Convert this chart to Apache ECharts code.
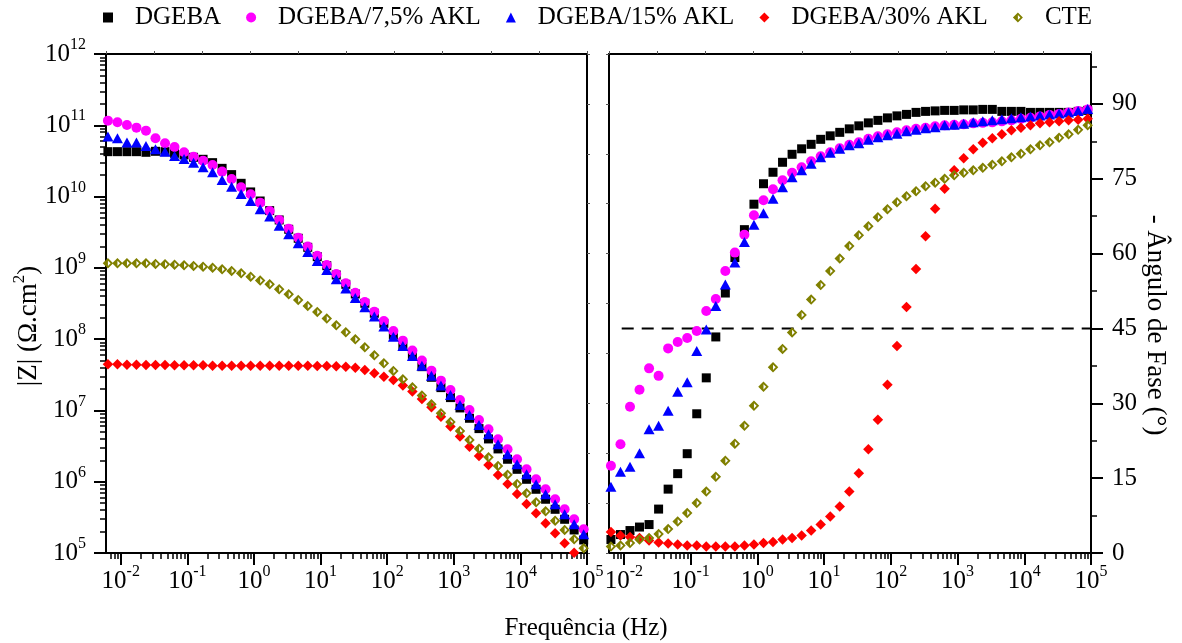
<!DOCTYPE html>
<html>
<head>
<meta charset="utf-8">
<script src="https://cdn.jsdelivr.net/npm/echarts@6.0.0/dist/echarts.min.js"></script>
<style>
  html, body { margin: 0; padding: 0; background: #fff; }
  #chart { width: 1182px; height: 643px; }
</style>
</head>
<body>
<div id="chart"></div>
<script>
// Measurement frequencies (Hz), low to high, 7 points per decade
const freqHz = [
  0.0064134, 0.0089125, 0.012383, 0.017197, 0.023898, 0.033211, 0.046151,
  0.064134, 0.089125, 0.12383, 0.17197, 0.23898, 0.33211, 0.46151,
  0.64134, 0.89125, 1.2383, 1.7197, 2.3898, 3.3211, 4.6151,
  6.4134, 8.9125, 12.383, 17.197, 23.898, 33.211, 46.151,
  64.134, 89.125, 123.83, 171.97, 238.98, 332.11, 461.51,
  641.34, 891.25, 1238.3, 1719.7, 2389.8, 3321.1, 4615.1,
  6413.4, 8912.5, 12383, 17197, 23898, 33211, 46151,
  64134, 89125
];

const sampleNames = ['DGEBA', 'DGEBA/7,5% AKL', 'DGEBA/15% AKL', 'DGEBA/30% AKL', 'CTE'];

// log10 |Z| (Ω.cm²) per sample, one value per frequency
const logZ_DGEBA = [10.630, 10.630, 10.630, 10.630, 10.621, 10.635, 10.630, 10.607, 10.584, 10.551, 10.523, 10.476, 10.396, 10.308, 10.186, 10.065, 9.938, 9.803, 9.672, 9.541, 9.415, 9.288, 9.157, 9.031, 8.900, 8.769, 8.634, 8.503, 8.363, 8.222, 8.059, 7.904, 7.764, 7.614, 7.465, 7.320, 7.180, 7.035, 6.890, 6.745, 6.600, 6.460, 6.315, 6.174, 6.034, 5.894, 5.754, 5.613, 5.473, 5.323, 5.183];
const logZ_AKL75 = [11.065, 11.042, 11.004, 10.967, 10.925, 10.817, 10.747, 10.696, 10.621, 10.560, 10.504, 10.443, 10.350, 10.247, 10.130, 10.032, 9.915, 9.798, 9.672, 9.550, 9.424, 9.298, 9.171, 9.041, 8.914, 8.783, 8.652, 8.522, 8.386, 8.255, 8.115, 7.979, 7.839, 7.699, 7.558, 7.418, 7.287, 7.147, 7.007, 6.866, 6.735, 6.595, 6.455, 6.315, 6.174, 6.034, 5.894, 5.754, 5.613, 5.473, 5.333];
const logZ_AKL15 = [10.841, 10.817, 10.757, 10.757, 10.710, 10.663, 10.630, 10.569, 10.527, 10.476, 10.411, 10.340, 10.233, 10.139, 10.036, 9.938, 9.821, 9.719, 9.592, 9.471, 9.344, 9.223, 9.097, 8.970, 8.839, 8.709, 8.578, 8.447, 8.316, 8.176, 8.035, 7.904, 7.764, 7.628, 7.488, 7.348, 7.217, 7.077, 6.936, 6.796, 6.665, 6.525, 6.385, 6.244, 6.104, 5.964, 5.824, 5.683, 5.543, 5.403, 5.263];
const logZ_AKL30 = [7.647, 7.647, 7.642, 7.642, 7.638, 7.638, 7.638, 7.633, 7.633, 7.633, 7.633, 7.628, 7.628, 7.628, 7.628, 7.628, 7.628, 7.628, 7.628, 7.628, 7.628, 7.628, 7.624, 7.624, 7.619, 7.614, 7.600, 7.568, 7.521, 7.474, 7.427, 7.348, 7.264, 7.161, 7.044, 6.913, 6.773, 6.633, 6.492, 6.361, 6.235, 6.095, 5.969, 5.828, 5.688, 5.557, 5.417, 5.277, 5.136, 5.005, 4.870];
const logZ_CTE = [9.064, 9.064, 9.064, 9.064, 9.064, 9.055, 9.050, 9.045, 9.036, 9.027, 9.017, 9.003, 8.980, 8.956, 8.924, 8.877, 8.821, 8.769, 8.699, 8.629, 8.550, 8.465, 8.381, 8.288, 8.194, 8.096, 7.998, 7.886, 7.773, 7.661, 7.554, 7.437, 7.325, 7.208, 7.086, 6.960, 6.838, 6.712, 6.586, 6.464, 6.343, 6.221, 6.099, 5.969, 5.838, 5.711, 5.585, 5.454, 5.323, 5.192, 5.066];

// -phase angle (degrees) per sample
const phase_DGEBA = [2.7, 3.7, 4.5, 5.2, 5.7, 8.8, 12.8, 15.9, 19.9, 27.9, 35.1, 43.3, 52.1, 59.2, 64.8, 69.9, 74.0, 76.3, 78.3, 79.9, 81.0, 81.9, 82.9, 83.6, 84.3, 85.0, 85.6, 86.2, 86.7, 87.2, 87.6, 87.9, 88.3, 88.5, 88.6, 88.7, 88.7, 88.8, 88.8, 88.9, 88.9, 88.5, 88.5, 88.5, 88.3, 88.3, 88.3, 88.3, 88.3, 88.5, 88.7];
const phase_AKL75 = [17.5, 21.8, 29.3, 32.7, 37.0, 35.5, 41.0, 42.3, 43.1, 44.5, 48.5, 50.9, 56.5, 60.2, 63.8, 67.7, 70.7, 72.9, 74.7, 76.2, 77.3, 78.5, 79.5, 80.3, 81.1, 81.8, 82.3, 83.0, 83.5, 83.9, 84.3, 84.7, 85.0, 85.2, 85.5, 85.7, 85.8, 85.9, 86.1, 86.2, 86.3, 86.5, 86.7, 87.0, 87.2, 87.5, 87.8, 88.0, 88.3, 88.6, 88.9];
const phase_AKL15 = [13.3, 16.3, 17.3, 20.0, 24.8, 25.5, 28.5, 32.3, 34.2, 40.5, 44.8, 49.5, 53.8, 58.2, 62.3, 65.8, 68.1, 71.0, 73.3, 75.3, 76.7, 78.0, 79.3, 80.2, 81.0, 81.7, 82.1, 82.8, 83.3, 83.7, 84.0, 84.5, 84.8, 85.1, 85.3, 85.7, 85.8, 86.0, 86.3, 86.5, 86.7, 86.9, 87.1, 87.3, 87.5, 87.7, 87.9, 88.1, 88.3, 88.6, 89.0];
const phase_AKL30 = [4.2, 3.5, 3.2, 3.0, 2.5, 2.1, 1.9, 1.7, 1.5, 1.5, 1.3, 1.3, 1.3, 1.3, 1.5, 1.7, 2.0, 2.2, 2.7, 3.0, 3.5, 4.5, 5.7, 7.3, 9.3, 12.3, 16.0, 20.8, 26.7, 33.7, 41.5, 49.3, 56.9, 63.5, 69.0, 73.0, 76.7, 79.1, 80.9, 82.2, 83.1, 83.9, 84.7, 85.2, 85.7, 86.1, 86.3, 86.5, 86.7, 86.8, 87.0];
const phase_CTE = [1.3, 1.5, 2.0, 2.7, 3.0, 3.8, 4.8, 6.3, 8.0, 10.0, 12.3, 15.3, 18.5, 21.9, 25.5, 29.5, 33.3, 37.2, 40.9, 44.2, 47.7, 50.8, 53.7, 56.5, 59.0, 61.5, 63.7, 65.5, 67.3, 68.9, 70.3, 71.5, 72.5, 73.5, 74.2, 75.0, 75.7, 76.2, 76.7, 77.2, 77.8, 78.5, 79.3, 80.0, 80.9, 81.7, 82.3, 83.2, 83.9, 84.8, 85.7];

// 45° reference line (frequency range, Hz)
const refLineHz = [0.0093, 100000];
const refLinePhase = [45, 45];

// Axis ranges and tick labels
const freqRangeHz = [0.006, 100000];
const freqDecades = [-2, -1, 0, 1, 2, 3, 4, 5];
const zDecades = [5, 6, 7, 8, 9, 10, 11, 12];
const phaseTicks = [0, 15, 30, 45, 60, 75, 90];
const phaseMinorTicks = [7.5, 22.5, 37.5, 52.5, 67.5, 82.5, 97.5];
const phaseRange = [0, 100];

const FONT = 'Liberation Serif';
const colors = ['#000000', '#ff00ff', '#0000ff', '#ff0000', '#808000'];
// half-filled diamond: left half solid, right half outlined
const halfDiamond = 'path://M10 0L0 10L10 20Z M10 0L20 10L10 20Z M10 5L10 15L15 10Z';
const symbols = ['rect', 'circle', 'triangle', 'diamond', halfDiamond];
const symbolSizes = [9, 10, [11, 10], 10.5, 10.5];

const logZ = [logZ_DGEBA, logZ_AKL75, logZ_AKL15, logZ_AKL30, logZ_CTE];
const phase = [phase_DGEBA, phase_AKL75, phase_AKL15, phase_AKL30, phase_CTE];

const logF = freqHz.map(f => Math.log10(f));
const fMin = Math.log10(freqRangeHz[0]);
const fMax = Math.log10(freqRangeHz[1]);

// log-spaced minor tick positions (2..9 × 10^n) inside [lo, hi]
function logMinor(lo, hi) {
  const out = [];
  for (let n = Math.floor(lo); n < Math.ceil(hi); n++) {
    for (let k = 2; k <= 9; k++) {
      const v = n + Math.log10(k);
      if (v > lo && v < hi) out.push(v);
    }
  }
  return out;
}

const powRich = {
  b: { fontSize: 25, lineHeight: 34, fontFamily: FONT, color: '#000' },
  s: { fontSize: 16, lineHeight: 16, verticalAlign: 'top', fontFamily: FONT, color: '#000' }
};
const powLabel = v => '{b|10}{s|' + Math.round(v) + '}';

const lineStyle = { color: '#000', width: 2 };

function majorAxis(extra) {
  return Object.assign({
    type: 'value',
    axisLine: { show: true, onZero: false, lineStyle },
    splitLine: { show: false },
    minorTick: { show: false }
  }, extra);
}
function minorAxis(extra, values) {
  return Object.assign({
    type: 'value',
    axisLine: { show: false, onZero: false },
    axisTick: { show: true, length: 6, customValues: values, lineStyle: { color: '#000', width: 1.5 } },
    axisLabel: { show: false },
    splitLine: { show: false }
  }, extra);
}
function borderAxis(extra) {
  return Object.assign({
    type: 'value', min: 0, max: 10, interval: 1,
    axisLine: { show: true, onZero: false, lineStyle },
    axisTick: { show: true, length: 3, lineStyle: { color: '#555', width: 1 } },
    axisLabel: { show: false },
    splitLine: { show: false }
  }, extra);
}

const xAxes = [];
const yAxes = [];
[0, 1].forEach(g => {
  xAxes.push(majorAxis({
    gridIndex: g, position: 'bottom', min: fMin, max: fMax,
    axisTick: { show: true, length: 12, customValues: freqDecades, lineStyle: { color: '#000', width: 2 } },
    axisLabel: { show: true, customValues: freqDecades, formatter: powLabel, rich: powRich, margin: 11 }
  }));
  xAxes.push(minorAxis({ gridIndex: g, position: 'bottom', min: fMin, max: fMax }, logMinor(fMin, fMax)));
  xAxes.push(borderAxis({ gridIndex: g, position: 'top' }));
});

// left panel: |Z|
yAxes.push(majorAxis({
  gridIndex: 0, position: 'left', min: zDecades[0], max: zDecades[zDecades.length - 1],
  axisTick: { show: true, length: 12, customValues: zDecades, lineStyle: { color: '#000', width: 2 } },
  axisLabel: { show: true, customValues: zDecades, formatter: powLabel, rich: powRich, margin: 20 }
}));
yAxes.push(minorAxis({ gridIndex: 0, position: 'left', min: zDecades[0], max: zDecades[zDecades.length - 1] },
  logMinor(zDecades[0], zDecades[zDecades.length - 1])));
yAxes.push(borderAxis({ gridIndex: 0, position: 'right' }));
// right panel: phase
yAxes.push(majorAxis({
  gridIndex: 1, position: 'right', min: phaseRange[0], max: phaseRange[1],
  axisTick: { show: true, length: 12, customValues: phaseTicks, lineStyle: { color: '#000', width: 2 } },
  axisLabel: { show: true, customValues: phaseTicks, margin: 21, fontSize: 25, fontFamily: FONT, color: '#000' }
}));
yAxes.push(minorAxis({ gridIndex: 1, position: 'right', min: phaseRange[0], max: phaseRange[1] }, phaseMinorTicks));
yAxes.push(borderAxis({ gridIndex: 1, position: 'left' }));

const series = [{
  type: 'line',
  xAxisIndex: 3, yAxisIndex: 3,
  data: refLineHz.map((f, i) => [Math.log10(f), refLinePhase[i]]),
  symbol: 'none', silent: true,
  lineStyle: { color: '#000', width: 2, type: [12, 8] },
  z: 1
}];
sampleNames.forEach((name, i) => {
  series.push({
    name, type: 'scatter', xAxisIndex: 0, yAxisIndex: 0,
    symbol: symbols[i], symbolSize: symbolSizes[i],
    itemStyle: { color: colors[i], opacity: 1 },
    clip: true,
    data: logF.map((x, j) => [x, logZ[i][j]])
  });
});
sampleNames.forEach((name, i) => {
  series.push({
    name, type: 'scatter', xAxisIndex: 3, yAxisIndex: 3,
    symbol: symbols[i], symbolSize: symbolSizes[i],
    itemStyle: { color: colors[i], opacity: 1 },
    clip: true,
    data: logF.map((x, j) => [x, phase[i][j]])
  });
});

const chart = echarts.init(document.getElementById('chart'), null, { renderer: 'canvas' });
chart.setOption({
  animation: false,
  backgroundColor: '#fff',
  textStyle: { fontFamily: FONT, color: '#000' },
  grid: [
    { left: 106, top: 54, width: 481, height: 499, containLabel: false, outerBoundsMode: 'none' },
    { left: 609, top: 54, width: 482, height: 499, containLabel: false, outerBoundsMode: 'none' }
  ],
  legend: {
    data: sampleNames,
    left: 98, top: 0, padding: 5,
    itemWidth: 10, itemHeight: 10, itemGap: 25,
    selectedMode: false,
    textStyle: { fontSize: 25, fontFamily: FONT, color: '#000', padding: [0, 0, 0, 17] }
  },
  xAxis: xAxes,
  yAxis: yAxes,
  series,
  graphic: [
    {
      type: 'text', x: 586, y: 628,
      style: { text: 'Frequência (Hz)', fontSize: 25, fontFamily: FONT, fill: '#000', align: 'center', verticalAlign: 'middle' }
    },
    {
      type: 'text', x: 29, y: 326, rotation: Math.PI / 2,
      style: {
        text: '|Z| (Ω.cm{s|2})', fontSize: 27, lineHeight: 36, fontFamily: FONT, fill: '#000',
        align: 'center', verticalAlign: 'middle',
        rich: { s: { fontSize: 17, lineHeight: 17, verticalAlign: 'top', fontFamily: FONT, fill: '#000' } }
      }
    },
    {
      type: 'text', x: 1155, y: 325, rotation: -Math.PI / 2,
      style: { text: '- Ângulo de Fase (°)', fontSize: 27, fontFamily: FONT, fill: '#000', align: 'center', verticalAlign: 'middle' }
    }
  ]
});
</script>
</body>
</html>
